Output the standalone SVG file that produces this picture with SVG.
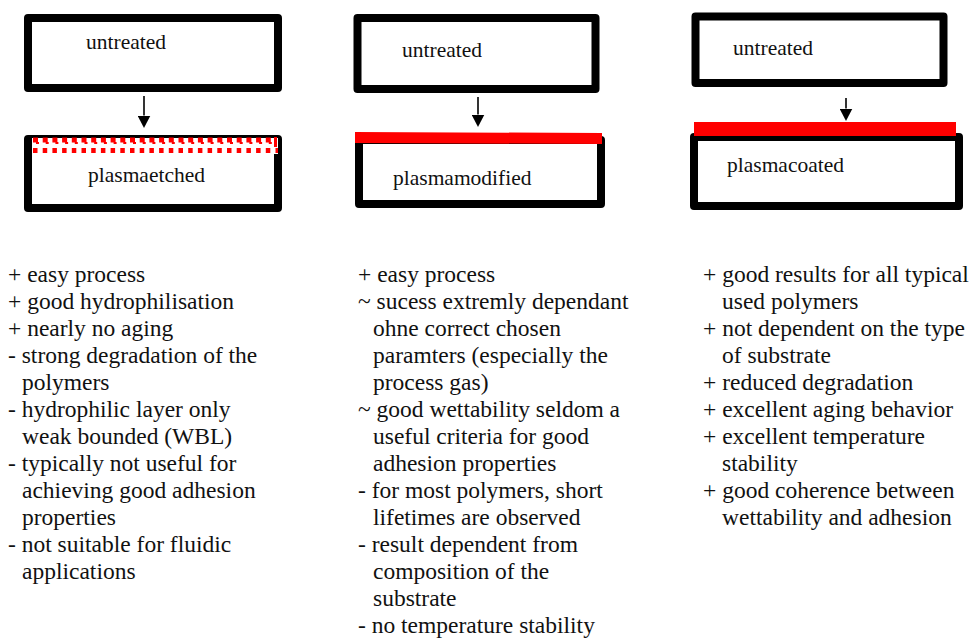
<svg xmlns="http://www.w3.org/2000/svg" width="975" height="639" viewBox="0 0 975 639">
<defs>
<style>
.box{fill:#fff;stroke:#000;stroke-width:8;stroke-linejoin:round}
.lbl{font-family:"Liberation Serif","Times New Roman",serif;font-size:21.5px;fill:#111}
.txt{font-family:"Liberation Serif","Times New Roman",serif;font-size:23.5px;fill:#111}
.conn{stroke:#000;stroke-width:1.6;fill:none}
.red{fill:#ff0000}
</style>
<marker id="ah" markerUnits="userSpaceOnUse" markerWidth="13" markerHeight="13" refX="0" refY="6.5" orient="auto" viewBox="0 0 13 13">
<path d="M0,0 L12.5,6.5 L0,13 z" fill="#000"/>
</marker>
</defs>
<rect width="975" height="639" fill="#fff"/>

<g id="untreated-1">
<rect class="box" x="28" y="18" width="250" height="70"/>
<text class="lbl" x="86" y="49">untreated</text>
</g>
<g id="plasmaetched">
<rect class="box" x="28" y="139" width="250" height="69"/>
<rect x="32" y="138" width="246" height="16" fill="#fff"/>
<line x1="33" y1="140" x2="276" y2="140" stroke="#ff0000" stroke-width="5" stroke-dasharray="5 4.7"/>
<line x1="36" y1="143" x2="276" y2="143" stroke="#ff0000" stroke-width="2" stroke-dasharray="3 6.7"/>
<line x1="33" y1="150.5" x2="278" y2="150.5" stroke="#ff0000" stroke-width="5" stroke-dasharray="4.5 5.2"/>
<rect class="red" x="274" y="137" width="3" height="10"/>
<text class="lbl" x="88" y="182">plasmaetched</text>
</g>

<g id="untreated-2">
<rect class="box" x="357.5" y="18" width="238" height="71"/>
<text class="lbl" x="402" y="57">untreated</text>
</g>
<g id="plasmamodified">
<rect class="box" x="359" y="140" width="242" height="64"/>
<polygon class="red" points="355,132 602,133 602,144 355,143"/>
<text class="lbl" x="393" y="185">plasmamodified</text>
</g>

<g id="untreated-3">
<rect class="box" x="695.5" y="16.5" width="248" height="66.5"/>
<text class="lbl" x="733" y="55">untreated</text>
</g>
<g id="plasmacoated">
<rect class="box" x="694" y="137" width="265" height="69"/>
<rect class="red" x="694" y="122" width="262" height="14"/>
<text class="lbl" x="727" y="172">plasmacoated</text>
</g>

<g id="connectors">
<line class="conn" x1="144" y1="96" x2="144" y2="115.5" marker-end="url(#ah)"/>
<line class="conn" x1="478" y1="97" x2="478" y2="114.5" marker-end="url(#ah)"/>
<line class="conn" x1="846" y1="98" x2="846" y2="108.5" marker-end="url(#ah)"/>
</g>

<g id="notes-etched" class="txt">
<text x="8" y="282">+ easy process</text>
<text x="8" y="309">+ good hydrophilisation</text>
<text x="8" y="336">+ nearly no aging</text>
<text x="8" y="363">- strong degradation of the</text>
<text x="22" y="390">polymers</text>
<text x="8" y="417">- hydrophilic layer only</text>
<text x="22" y="444">weak bounded (WBL)</text>
<text x="8" y="471">- typically not useful for</text>
<text x="22" y="498">achieving good adhesion</text>
<text x="22" y="525">properties</text>
<text x="8" y="552">- not suitable for fluidic</text>
<text x="22" y="579">applications</text>
</g>

<g id="notes-modified" class="txt">
<text x="358" y="282">+ easy process</text>
<text x="358" y="309">~ sucess extremly dependant</text>
<text x="373" y="336">ohne correct chosen</text>
<text x="373" y="363">paramters (especially the</text>
<text x="373" y="390">process gas)</text>
<text x="358" y="417">~ good wettability seldom a</text>
<text x="373" y="444">useful criteria for good</text>
<text x="373" y="471">adhesion properties</text>
<text x="358" y="498">- for most polymers, short</text>
<text x="373" y="525">lifetimes are observed</text>
<text x="358" y="552">- result dependent from</text>
<text x="373" y="579">composition of the</text>
<text x="373" y="606">substrate</text>
<text x="358" y="633">- no temperature stability</text>
</g>

<g id="notes-coated" class="txt">
<text x="703" y="282">+ good results for all typical</text>
<text x="722" y="309">used polymers</text>
<text x="703" y="336">+ not dependent on the type</text>
<text x="722" y="363">of substrate</text>
<text x="703" y="390">+ reduced degradation</text>
<text x="703" y="417">+ excellent aging behavior</text>
<text x="703" y="444">+ excellent temperature</text>
<text x="722" y="471">stability</text>
<text x="703" y="498">+ good coherence between</text>
<text x="722" y="525">wettability and adhesion</text>
</g>
</svg>
